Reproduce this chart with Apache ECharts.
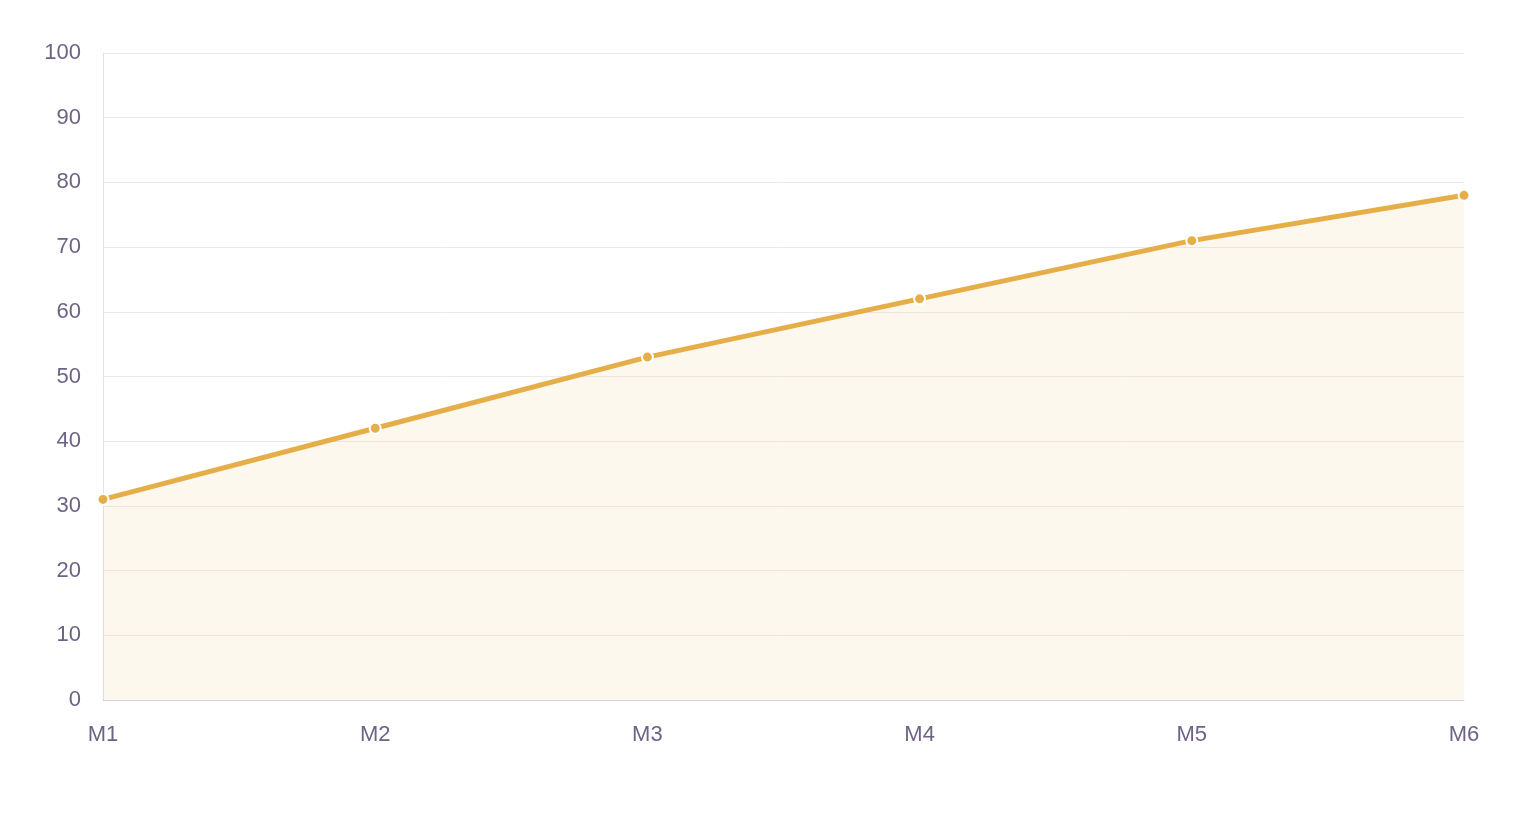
<!DOCTYPE html>
<html><head><meta charset="utf-8">
<script src="https://cdn.jsdelivr.net/npm/echarts@6/dist/echarts.min.js"></script>
<style>html,body{margin:0;padding:0;background:#fff}#c{width:1520px;height:840px}</style>
</head><body><div id="c"></div>
<script>
const categories = ['M1','M2','M3','M4','M5','M6'];
const values = [31, 42, 53, 62, 71, 78];
const chart = echarts.init(document.getElementById('c'));
chart.setOption({
  animation: false,
  grid: { left: 103, right: 56, top: 53, bottom: 140, containLabel: false },
  xAxis: {
    type: 'category', data: categories, boundaryGap: false,
    axisLine: { lineStyle: { color: '#d6d3dc' } },
    axisTick: { show: false },
    axisLabel: { color: '#6e6385', fontSize: 22, margin: 24, fontFamily: 'Liberation Sans' }
  },
  yAxis: {
    type: 'value', min: 0, max: 100, interval: 10,
    axisLine: { show: true, lineStyle: { color: '#e3e1e6' } },
    splitLine: { lineStyle: { color: '#ebe9ec' } },
    axisLabel: { color: '#6e6385', fontSize: 22, margin: 22, fontFamily: 'Liberation Sans' }
  },
  series: [{
    type: 'line', data: values,
    lineStyle: { color: '#e6ae48', width: 5 },
    itemStyle: { color: '#e6ae48', borderColor: '#fff', borderWidth: 2 },
    symbol: 'circle', symbolSize: 11,
    areaStyle: { color: 'rgba(230,174,72,0.13)' }
  }]
});
</script></body></html>
